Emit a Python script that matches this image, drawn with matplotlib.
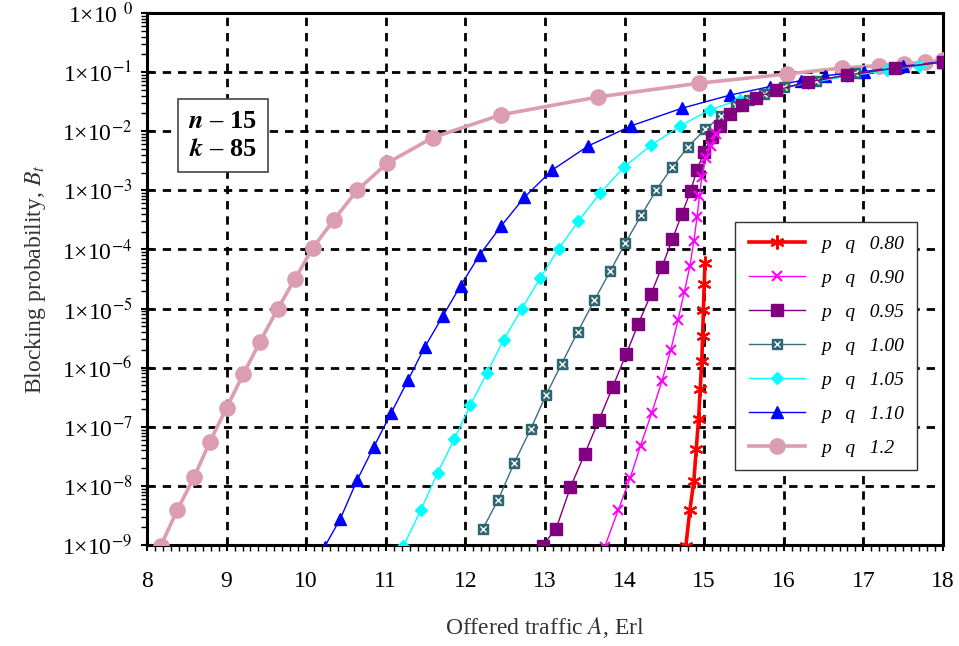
import math
import matplotlib
matplotlib.use("Agg")
import matplotlib.pyplot as plt
from matplotlib.ticker import FixedLocator, FuncFormatter, LogLocator, NullFormatter
from matplotlib.legend_handler import HandlerTuple

plt.rcParams['font.family'] = ['Liberation Serif', 'DejaVu Serif']
plt.rcParams['mathtext.fontset'] = 'stix'

# Values
a_080 = [14.77, 14.82, 14.87, 14.90, 14.93, 14.95, 14.97, 14.98, 14.99, 15.00, 15.01]
b_080 = [9.8e-10, 3.9e-9, 1.2e-8, 4.2e-8, 1.38e-7, 4.4e-7, 1.32e-6, 3.4e-6, 9.3e-6, 2.6e-5, 5.9e-5]

a_090 = [13.75, 13.92, 14.07, 14.20, 14.34, 14.47, 14.58, 14.67, 14.75, 14.82, 14.87, 14.91,
         14.94, 14.97, 15.02, 15.08, 15.15]
b_090 = [9.3e-10, 3.9e-9, 1.35e-8, 4.8e-8, 1.7e-7, 6.0e-7, 2.0e-6, 6.3e-6, 1.9e-5, 5.2e-5,
         1.4e-4, 3.5e-4, 7.9e-4, 1.7e-3, 3.5e-3, 5.6e-3, 8.9e-3]

a_095 = [12.97, 13.14, 13.32, 13.50, 13.68, 13.85, 14.02, 14.17, 14.33, 14.47, 14.60, 14.72,
         14.83, 14.91, 15.00, 15.10, 15.20, 15.32, 15.47, 15.65, 15.90, 16.30, 16.80, 17.40, 18.00]
b_095 = [9.8e-10, 1.9e-9, 9.5e-9, 3.5e-8, 1.32e-7, 4.7e-7, 1.7e-6, 5.4e-6, 1.74e-5, 5.1e-5,
         1.48e-4, 4.0e-4, 9.8e-4, 2.24e-3, 4.5e-3, 7.9e-3, 1.23e-2, 1.95e-2, 2.75e-2, 3.7e-2,
         4.9e-2, 6.8e-2, 8.9e-2, 0.117, 0.148]

a_100 = [12.22, 12.41, 12.61, 12.82, 13.01, 13.21, 13.41, 13.62, 13.82, 14.01, 14.21, 14.40,
         14.60, 14.80, 15.01, 15.21, 15.40, 15.56, 15.75, 16.00, 16.40, 16.90, 17.40, 18.00]
b_100 = [1.9e-9, 5.75e-9, 2.4e-8, 9.1e-8, 3.4e-7, 1.17e-6, 4.0e-6, 1.38e-5, 4.3e-5, 1.29e-4,
         3.8e-4, 1.02e-3, 2.5e-3, 5.5e-3, 1.07e-2, 1.78e-2, 2.63e-2, 3.4e-2, 4.3e-2, 5.5e-2,
         7.2e-2, 9.5e-2, 0.117, 0.148]

a_105 = [11.22, 11.44, 11.65, 11.86, 12.06, 12.27, 12.48, 12.71, 12.94, 13.17, 13.42, 13.69,
         13.99, 14.33, 14.70, 15.07, 15.45, 15.85, 16.30, 16.80, 17.30, 17.70, 18.00]
b_105 = [9.5e-10, 3.9e-9, 1.66e-8, 6.2e-8, 2.3e-7, 8.1e-7, 2.95e-6, 1.0e-5, 3.3e-5, 1.02e-4,
         3.0e-4, 8.9e-4, 2.45e-3, 5.75e-3, 1.23e-2, 2.3e-2, 3.4e-2, 4.9e-2, 6.5e-2, 8.5e-2,
         0.107, 0.129, 0.148]

a_110 = [10.23, 10.43, 10.64, 10.85, 11.07, 11.28, 11.49, 11.72, 11.94, 12.18, 12.45, 12.74,
         13.09, 13.54, 14.08, 14.72, 15.33, 15.83, 16.22, 16.52, 17.01, 17.50, 18.00]
b_110 = [9.3e-10, 2.8e-9, 1.26e-8, 4.6e-8, 1.74e-7, 6.2e-7, 2.24e-6, 7.6e-6, 2.45e-5, 8.1e-5,
         2.5e-4, 7.6e-4, 2.2e-3, 5.6e-3, 1.23e-2, 2.45e-2, 4.1e-2, 5.7e-2, 7.2e-2, 8.7e-2,
         0.102, 0.126, 0.151]

a_120 = [8.17, 8.38, 8.59, 8.79, 9.00, 9.21, 9.42, 9.64, 9.86, 10.08, 10.35, 10.64, 11.02,
         11.59, 12.45, 13.67, 14.94, 16.04, 16.73, 17.20, 17.51, 17.78, 18.00]
b_120 = [9.5e-10, 3.9e-9, 1.4e-8, 5.6e-8, 2.1e-7, 7.8e-7, 2.75e-6, 9.8e-6, 3.2e-5, 1.05e-4,
         3.2e-4, 1.0e-3, 2.9e-3, 7.8e-3, 1.9e-2, 3.8e-2, 6.5e-2, 9.3e-2, 0.117, 0.129, 0.138,
         0.148, 0.158]

x_ticks = [8, 9, 10, 11, 12, 13, 14, 15, 16, 17, 18]
y_ticks = [1e-9, 1e-8, 1e-7, 1e-6, 1e-5, 1e-4, 1e-3, 1e-2, 1e-1, 1e0]
labels = ['p   q   0.80', 'p   q   0.90', 'p   q   0.95', 'p   q   1.00',
          'p   q   1.05', 'p   q   1.10', 'p   q   1.2']

fig = plt.figure(figsize=(9.59, 6.46), dpi=100)
ax = fig.add_axes([0.1533, 0.1563, 0.8300, 0.8236])
ax.set_yscale('log')
ax.set_xlim(8, 18)
ax.set_ylim(1e-9, 1)

h1, = ax.plot(a_080, b_080, color='red', lw=2.6, marker=(6, 2, 0), ms=10, mew=1.6, zorder=9)
h2, = ax.plot(a_090, b_090, color='#ff00ff', lw=1.0, marker='x', ms=7, mew=1.5, zorder=8)
h3, = ax.plot(a_095, b_095, color='#800080', lw=1.0, marker='s', ms=8, zorder=7)
h4a, = ax.plot(a_100, b_100, color='#3d6f7a', lw=1.0, marker='s', ms=7.5,
               mfc='#2f6673', mec='#2f6673', zorder=6)
h4b, = ax.plot(a_100, b_100, ls='none', marker='x', ms=4.5, mew=1.0, color='white', zorder=6)
h5, = ax.plot(a_105, b_105, color='cyan', lw=1.0, marker='D', ms=6.5, zorder=5)
h6, = ax.plot(a_110, b_110, color='blue', lw=1.0, marker='^', ms=8, zorder=4)
h7, = ax.plot(a_120, b_120, color='#dc9db1', lw=2.6, marker='o', ms=11, zorder=3)

ax.xaxis.set_major_locator(FixedLocator(x_ticks))
ax.xaxis.set_minor_locator(FixedLocator([8 + i * 0.1 for i in range(101)]))
ax.yaxis.set_major_locator(FixedLocator(y_ticks))
ax.yaxis.set_minor_locator(LogLocator(base=10, subs=range(2, 10), numticks=20))
ax.yaxis.set_minor_formatter(NullFormatter())


def fmt(v, pos):
    e = int(round(math.log10(v)))
    if e == 0:
        return r'1×10 $^{0}$'
    return r'1×10$^{%d}$' % e


ax.yaxis.set_major_formatter(FuncFormatter(fmt))
ax.tick_params(axis='both', which='major', direction='inout', length=9, width=1.5,
               labelsize=17, colors='black')
ax.tick_params(axis='both', which='minor', direction='out', length=4, width=1.0)
ax.tick_params(axis='x', which='major', pad=14)
ax.tick_params(axis='y', which='major', pad=6)
for s in ax.spines.values():
    s.set_linewidth(2.2)

ax.set_axisbelow(True)
ax.grid(True, which='major', color='black', ls=(0, (3, 2.5)), lw=2.0)

ax.set_xlabel('Offered traffic $\\it{A}$, Erl', fontsize=17, labelpad=17, color='#333333')
ax.set_ylabel('Blocking probability, $\\it{B_t}$', fontsize=17, labelpad=10, color='#333333')

ax.text(0.095, 0.77, '$\\boldsymbol{n}$ – 15\n$\\boldsymbol{k}$ – 85', transform=ax.transAxes,
        fontsize=19, fontweight='bold', ha='center', va='center', linespacing=1.3,
        bbox=dict(boxstyle='square,pad=0.4', fc='white', ec='#444444', lw=1.2), zorder=12)

leg = ax.legend([h1, h2, h3, (h4a, h4b), h5, h6, h7], labels,
                handler_map={tuple: HandlerTuple(ndivide=1, pad=0)},
                loc='lower right', bbox_to_anchor=(0.98, 0.122), frameon=True, fancybox=False,
                edgecolor='#333333', framealpha=1, borderpad=0.7, labelspacing=0.84,
                handlelength=2.9, prop={'style': 'italic', 'size': 14})
leg.get_frame().set_linewidth(1.0)
leg.set_zorder(20)

fig.savefig('out.png', dpi=100)
